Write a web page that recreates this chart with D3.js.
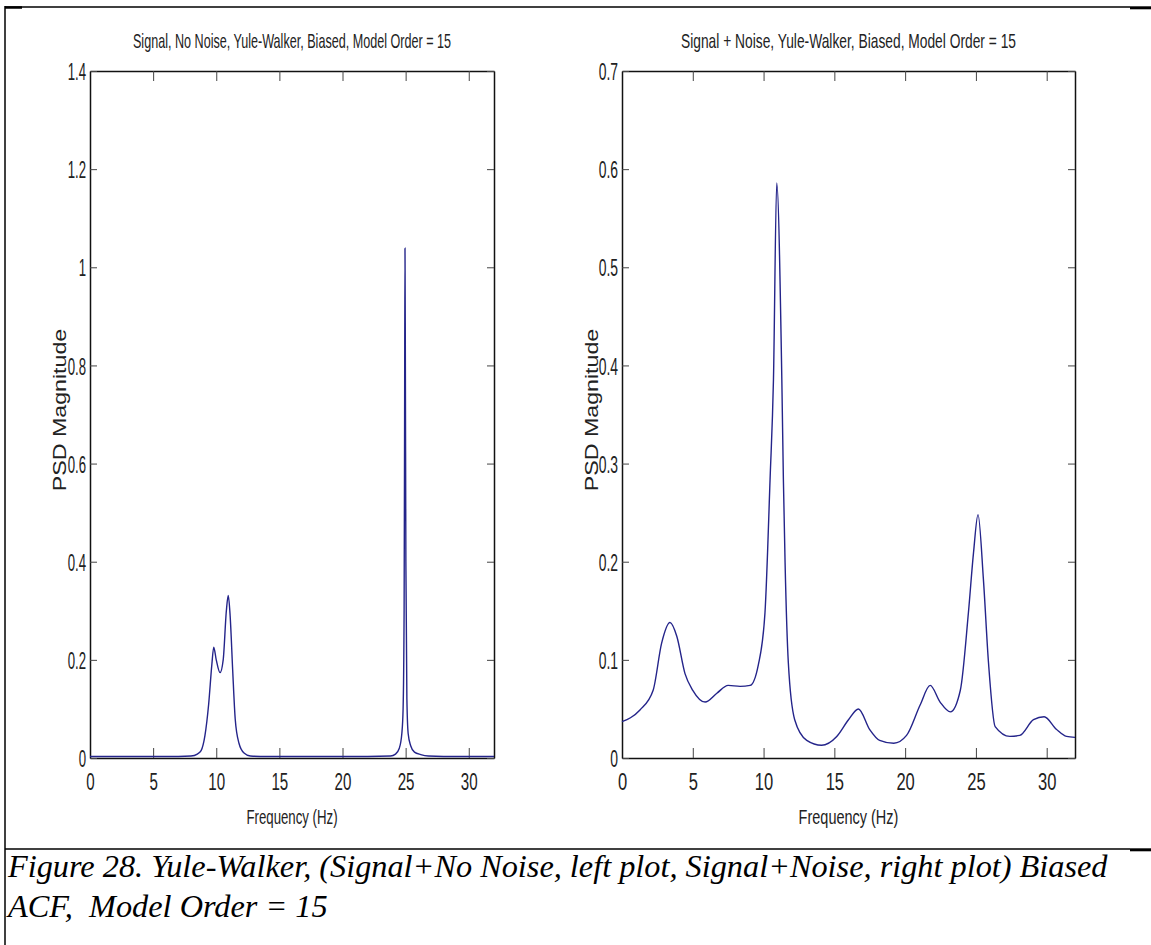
<!DOCTYPE html>
<html>
<head>
<meta charset="utf-8">
<script src="https://cdn.jsdelivr.net/npm/d3@7"></script>
<style>
  body { margin: 0; background: #fff; }
  svg { display: block; }
  .ttl, .tick text, .lbl { font-family: "Liberation Sans", Arial, sans-serif; fill: #222; }
  .cap { font-family: "Liberation Serif", "Times New Roman", serif; font-style: italic; fill: #000; white-space: pre; }
</style>
</head>
<body>
<svg id="fig" width="1151" height="945"></svg>
<script>
// ---- data ----
var xTicks = [0, 5, 10, 15, 20, 25, 30];
var leftYTicks = [0, 0.2, 0.4, 0.6, 0.8, 1, 1.2, 1.4];
var rightYTicks = [0, 0.1, 0.2, 0.3, 0.4, 0.5, 0.6, 0.7];

var leftFreq = [0, 2, 4, 6, 7, 8, 8.5, 8.8, 9.1, 9.4, 9.65, 9.8, 10, 10.3, 10.55, 10.8, 10.95, 11.1, 11.3, 11.5, 11.8, 12.2, 12.7,
  14, 18, 22, 23.8, 24.2, 24.5, 24.7, 24.8, 24.88, 24.92, 24.95, 24.98, 25.02, 25.1, 25.2, 25.4, 25.7, 26.2, 26.8, 28, 30, 32];
var leftPsd = [0.003, 0.003, 0.003, 0.003, 0.003, 0.004, 0.008, 0.015, 0.045, 0.11, 0.19, 0.226, 0.2, 0.174, 0.2, 0.3, 0.331, 0.29, 0.18, 0.08, 0.03, 0.01, 0.004,
  0.003, 0.003, 0.003, 0.004, 0.008, 0.02, 0.05, 0.1, 0.3, 0.7, 1.039, 0.8, 0.4, 0.12, 0.05, 0.025, 0.012, 0.007, 0.004, 0.003, 0.003, 0.003];

var rightFreq = [0, 0.6, 1.27, 2.2, 2.8, 3.39, 3.87, 4.45, 5.0, 5.87, 6.7, 7.5, 8.34, 9.05, 9.63, 10.1, 10.46, 10.7, 10.93,
  11.29, 11.4, 11.52, 11.75, 12.2, 13.05, 14.1, 15.17, 16.0, 16.7, 17.5, 18.2, 19.2, 20.1, 21.06, 21.77, 22.47, 23.2, 23.9,
  24.47, 24.83, 25.15, 25.53, 25.89, 26.36, 27.4, 28.1, 29.07, 29.82, 30.7, 31.4, 32];
var rightPsd = [0.037, 0.041, 0.049, 0.069, 0.117, 0.138, 0.124, 0.086, 0.069, 0.057, 0.066, 0.074, 0.073, 0.074, 0.095, 0.148, 0.284, 0.386, 0.586,
  0.386, 0.284, 0.199, 0.097, 0.039, 0.018, 0.013, 0.022, 0.039, 0.05, 0.029, 0.018, 0.015, 0.023, 0.054, 0.074, 0.057, 0.047, 0.069,
  0.148, 0.209, 0.248, 0.182, 0.097, 0.032, 0.022, 0.023, 0.039, 0.042, 0.029, 0.022, 0.021];

var titles = ["Signal, No Noise, Yule-Walker, Biased, Model Order = 15",
              "Signal + Noise, Yule-Walker, Biased, Model Order = 15"];
var captionLines = ["Figure 28. Yule-Walker, (Signal+No Noise, left plot, Signal+Noise, right plot) Biased",
                    "ACF,  Model Order = 15"];

var svg = d3.select("#fig");
svg.append("rect").attr("width", 1151).attr("height", 945).attr("fill", "#fff");

var TOP = 71, BOTTOM = 758;

var panels = [
  {x0: 90, x1: 494, k: 0.63, ky: 0.55, ymax: 1.4, yTicks: leftYTicks, f: leftFreq, p: leftPsd, title: titles[0], ylab: 66},
  {x0: 622, x1: 1075, k: 0.69, ky: 0.58, ymax: 0.7, yTicks: rightYTicks, f: rightFreq, p: rightPsd, title: titles[1], ylab: 598}
];

panels.forEach(function(pn) {
  var x = d3.scaleLinear().domain([0, 32]).range([pn.x0, pn.x1]);
  var y = d3.scaleLinear().domain([0, pn.ymax]).range([BOTTOM, TOP]);
  var g = svg.append("g");

  // axes, ticks pointing inwards
  var bottom = g.append("g")
      .attr("transform", "translate(0," + BOTTOM + ")")
      .call(d3.axisBottom(x).tickValues(xTicks).tickSize(-10).tickSizeOuter(0));
  bottom.selectAll(".tick text")
      .attr("y", null).attr("dy", null)
      .style("font-size", "24px")
      .attr("transform", "translate(0,32) scale(" + pn.k + ",1)");

  g.append("g")
      .attr("transform", "translate(0," + TOP + ")")
      .call(d3.axisTop(x).tickValues(xTicks).tickSize(-10).tickSizeOuter(0).tickFormat(""));

  var left = g.append("g")
      .attr("transform", "translate(" + pn.x0 + ",0)")
      .call(d3.axisLeft(y).tickValues(pn.yTicks).tickSize(-7).tickSizeOuter(0).tickFormat(d3.format("~g")));
  left.selectAll(".tick text")
      .attr("x", null).attr("dy", "0.36em")
      .style("font-size", "24px")
      .attr("transform", "translate(-4,0) scale(" + pn.ky + ",1)");

  g.append("g")
      .attr("transform", "translate(" + pn.x1 + ",0)")
      .call(d3.axisRight(y).tickValues(pn.yTicks).tickSize(-7).tickSizeOuter(0).tickFormat(""));

  g.selectAll(".domain").attr("stroke", "#111").attr("stroke-width", 1.5);
  g.selectAll(".tick line").attr("stroke", "#444");

  // data line
  var line = d3.line()
      .curve(d3.curveMonotoneX)
      .x(function(d) { return x(d[0]); })
      .y(function(d) { return y(d[1]); });
  g.append("path")
      .datum(d3.zip(pn.f, pn.p))
      .attr("d", line)
      .attr("fill", "none")
      .attr("stroke", "#24248a")
      .attr("stroke-width", 1.4);

  var cx = (pn.x0 + pn.x1) / 2;
  g.append("text").attr("class", "ttl")
      .attr("text-anchor", "middle")
      .style("font-size", "20px")
      .attr("transform", "translate(" + cx + ",48) scale(" + pn.k + ",1)")
      .text(pn.title);

  g.append("text").attr("class", "lbl")
      .attr("text-anchor", "middle")
      .style("font-size", "21px")
      .attr("transform", "translate(" + cx + ",824) scale(" + pn.k + ",1)")
      .text("Frequency (Hz)");

  g.append("text").attr("class", "lbl")
      .attr("text-anchor", "middle")
      .style("font-size", "18px")
      .attr("transform", "translate(" + pn.ylab + ",410) scale(1,1.29) rotate(-90)")
      .text("PSD Magnitude");
});

// page frame (table borders)
var frame = svg.append("g").attr("stroke", "#000").attr("fill", "none");
frame.append("line").attr("x1", 5).attr("x2", 1130).attr("y1", 7).attr("y2", 7).attr("stroke-width", 1.5);
frame.append("line").attr("x1", 1130).attr("x2", 1151).attr("y1", 7.8).attr("y2", 7.8).attr("stroke-width", 3);
frame.append("line").attr("x1", 5).attr("x2", 22).attr("y1", 7.5).attr("y2", 7.5).attr("stroke-width", 2.5);
frame.append("line").attr("x1", 5).attr("x2", 1130).attr("y1", 849).attr("y2", 849).attr("stroke-width", 1.5);
frame.append("line").attr("x1", 1130).attr("x2", 1151).attr("y1", 849.8).attr("y2", 849.8).attr("stroke-width", 3);
frame.append("line").attr("x1", 5).attr("x2", 5).attr("y1", 6).attr("y2", 945).attr("stroke-width", 1.5);

// caption
svg.selectAll("text.cap")
  .data(captionLines)
  .enter().append("text")
    .attr("class", "cap")
    .attr("x", 8)
    .attr("y", function(d, i) { return 877 + i * 40; })
    .style("font-size", "32.3px")
    .text(function(d) { return d; });
</script>
</body>
</html>
